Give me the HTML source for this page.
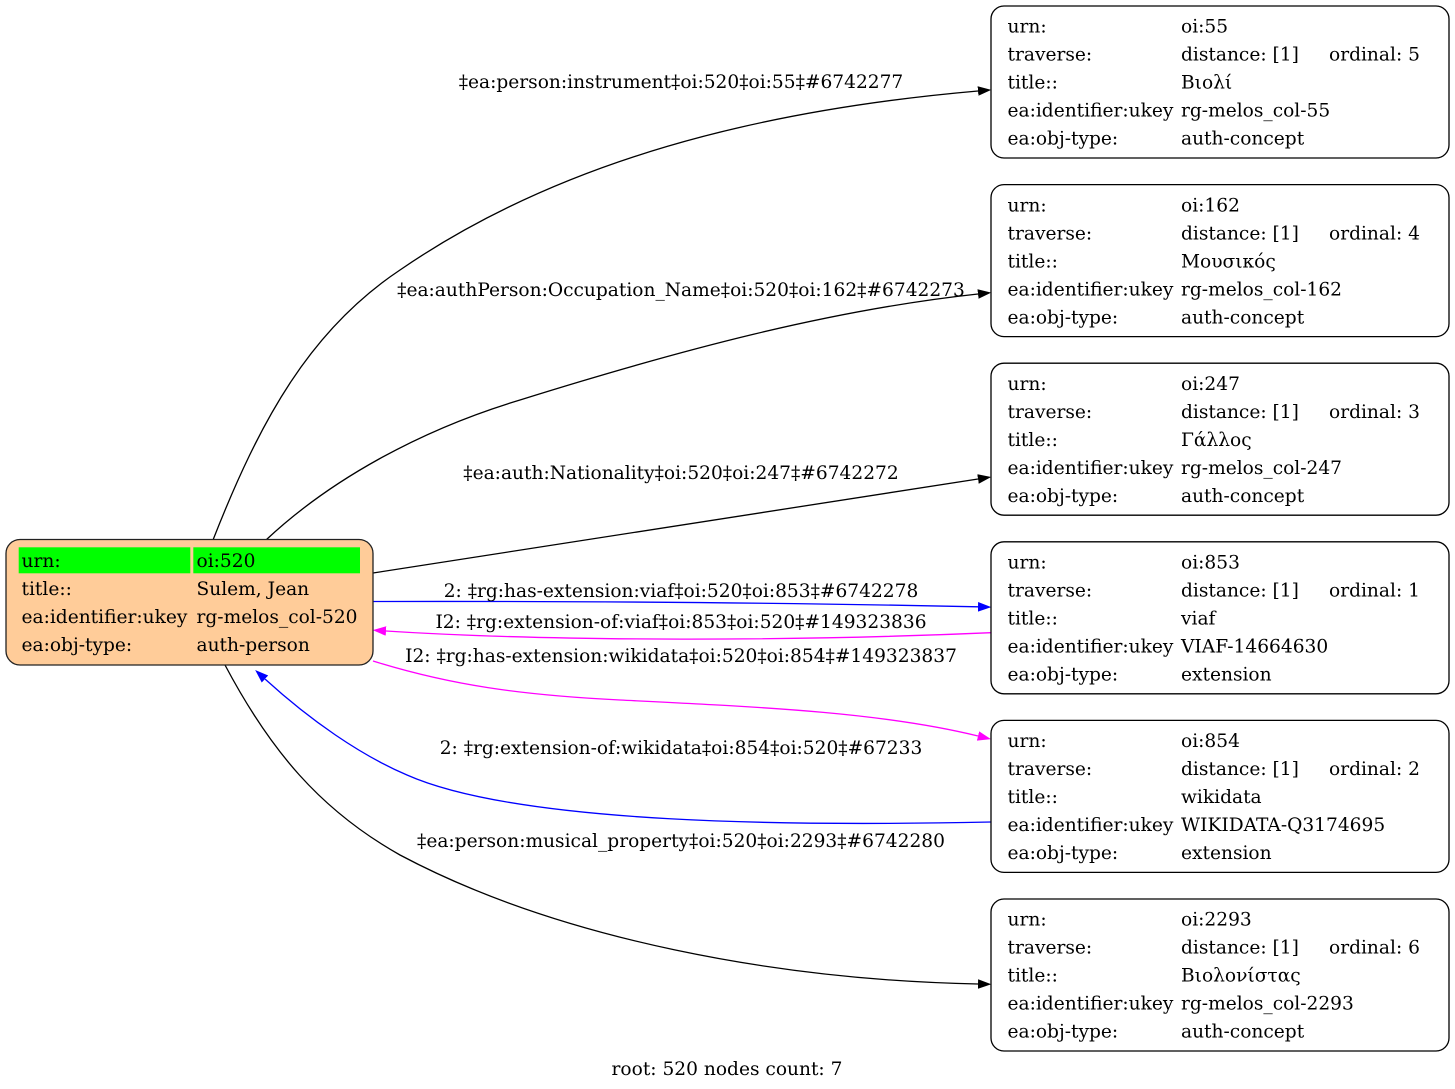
<!DOCTYPE html>
<html><head><meta charset="utf-8"><style>
html,body{margin:0;padding:0;background:#fff;}
svg{display:block;}
text{font-family:"DejaVu Serif","Liberation Serif",serif;font-size:18.6px;fill:#000;}
</style></head><body>
<svg width="1455" height="1089" viewBox="0 0 1455 1089" xmlns="http://www.w3.org/2000/svg">
<defs>
<marker id="ak" markerUnits="userSpaceOnUse" markerWidth="14" markerHeight="10" refX="0" refY="4.8" orient="auto"><path d="M0,0 L13.3,4.8 L0,9.6 z" fill="#000"/></marker>
<marker id="ab" markerUnits="userSpaceOnUse" markerWidth="14" markerHeight="10" refX="0" refY="4.8" orient="auto"><path d="M0,0 L13.3,4.8 L0,9.6 z" fill="#0000ff"/></marker>
<marker id="am" markerUnits="userSpaceOnUse" markerWidth="14" markerHeight="10" refX="0" refY="4.8" orient="auto"><path d="M0,0 L13.3,4.8 L0,9.6 z" fill="#ff00ff"/></marker>
</defs>

<!-- edges -->
<g fill="none" stroke-width="1.3">
<path d="M213,540 C260,420 310,330 400,270 C560,160 760,110 978,91" stroke="#000" marker-end="url(#ak)"/>
<path d="M266,540 C330,480 420,430 520,400 C680,350 830,310 978,294" stroke="#000" marker-end="url(#ak)"/>
<path d="M373,573 L978,479" stroke="#000" marker-end="url(#ak)"/>
<path d="M373,601.5 C600,601 800,603 978,606.8" stroke="#0000ff" marker-end="url(#ab)"/>
<path d="M991,632.7 C800,641 560,642 386,631" stroke="#ff00ff" marker-end="url(#am)"/>
<path d="M373,661 C450,685 520,695 620,700 C760,707 880,712 978,736" stroke="#ff00ff" marker-end="url(#am)"/>
<path d="M991,822 C800,826 520,825 407,775 C360,755 310,720 265,679" stroke="#0000ff" marker-end="url(#ab)"/>
<path d="M225,665 C270,750 320,810 400,855 C560,940 780,980 978,984" stroke="#000" marker-end="url(#ak)"/>
</g>

<!-- edge labels -->
<g text-anchor="middle">
<text x="681" y="88">‡ea:person:instrument‡oi:520‡oi:55‡#6742277</text>
<text x="681" y="296">‡ea:authPerson:Occupation_Name‡oi:520‡oi:162‡#6742273</text>
<text x="681" y="479">‡ea:auth:Nationality‡oi:520‡oi:247‡#6742272</text>
<text x="681" y="597">2: ‡rg:has-extension:viaf‡oi:520‡oi:853‡#6742278</text>
<text x="681" y="628">I2: ‡rg:extension-of:viaf‡oi:853‡oi:520‡#149323836</text>
<text x="681" y="662">I2: ‡rg:has-extension:wikidata‡oi:520‡oi:854‡#149323837</text>
<text x="681" y="754">2: ‡rg:extension-of:wikidata‡oi:854‡oi:520‡#67233</text>
<text x="681" y="847">‡ea:person:musical_property‡oi:520‡oi:2293‡#6742280</text>
<text x="727" y="1075">root: 520 nodes count: 7</text>
</g>

<!-- root node -->
<rect x="6" y="539.5" width="367" height="125.5" rx="14" ry="14" fill="#ffcc99" stroke="#222" stroke-width="1.3"/>
<rect x="18.7" y="547.3" width="171.6" height="26" fill="#00ff00"/>
<rect x="193.3" y="547.3" width="166.7" height="26" fill="#00ff00"/>
<text x="21.5" y="567">urn:</text><text x="196.5" y="567">oi:520</text>
<text x="21.5" y="595">title::</text><text x="196.5" y="595">Sulem, Jean</text>
<text x="21.5" y="623">ea:identifier:ukey</text><text x="196.5" y="623">rg-melos_col-520</text>
<text x="21.5" y="651">ea:obj-type:</text><text x="196.5" y="651">auth-person</text>

<!-- node 1 -->
<g transform="translate(0,6)">
<rect x="991" y="0" width="458" height="152" rx="13" ry="13" fill="#fff" stroke="#000" stroke-width="1.3"/>
<text x="1007.5" y="26.7">urn:</text><text x="1181" y="26.7">oi:55</text>
<text x="1007.5" y="54.7">traverse:</text><text x="1181" y="54.7">distance: [1]</text><text x="1329" y="54.7">ordinal: 5</text>
<text x="1007.5" y="82.7">title::</text><text x="1181" y="82.7">Βιολί</text>
<text x="1007.5" y="110.7">ea:identifier:ukey</text><text x="1181" y="110.7">rg-melos_col-55</text>
<text x="1007.5" y="138.7">ea:obj-type:</text><text x="1181" y="138.7">auth-concept</text>
</g>
<!-- node 2 -->
<g transform="translate(0,184.6)">
<rect x="991" y="0" width="458" height="152" rx="13" ry="13" fill="#fff" stroke="#000" stroke-width="1.3"/>
<text x="1007.5" y="26.7">urn:</text><text x="1181" y="26.7">oi:162</text>
<text x="1007.5" y="54.7">traverse:</text><text x="1181" y="54.7">distance: [1]</text><text x="1329" y="54.7">ordinal: 4</text>
<text x="1007.5" y="82.7">title::</text><text x="1181" y="82.7">Μουσικός</text>
<text x="1007.5" y="110.7">ea:identifier:ukey</text><text x="1181" y="110.7">rg-melos_col-162</text>
<text x="1007.5" y="138.7">ea:obj-type:</text><text x="1181" y="138.7">auth-concept</text>
</g>
<!-- node 3 -->
<g transform="translate(0,363.2)">
<rect x="991" y="0" width="458" height="152" rx="13" ry="13" fill="#fff" stroke="#000" stroke-width="1.3"/>
<text x="1007.5" y="26.7">urn:</text><text x="1181" y="26.7">oi:247</text>
<text x="1007.5" y="54.7">traverse:</text><text x="1181" y="54.7">distance: [1]</text><text x="1329" y="54.7">ordinal: 3</text>
<text x="1007.5" y="82.7">title::</text><text x="1181" y="82.7">Γάλλος</text>
<text x="1007.5" y="110.7">ea:identifier:ukey</text><text x="1181" y="110.7">rg-melos_col-247</text>
<text x="1007.5" y="138.7">ea:obj-type:</text><text x="1181" y="138.7">auth-concept</text>
</g>
<!-- node 4 -->
<g transform="translate(0,541.8)">
<rect x="991" y="0" width="458" height="152" rx="13" ry="13" fill="#fff" stroke="#000" stroke-width="1.3"/>
<text x="1007.5" y="26.7">urn:</text><text x="1181" y="26.7">oi:853</text>
<text x="1007.5" y="54.7">traverse:</text><text x="1181" y="54.7">distance: [1]</text><text x="1329" y="54.7">ordinal: 1</text>
<text x="1007.5" y="82.7">title::</text><text x="1181" y="82.7">viaf</text>
<text x="1007.5" y="110.7">ea:identifier:ukey</text><text x="1181" y="110.7">VIAF-14664630</text>
<text x="1007.5" y="138.7">ea:obj-type:</text><text x="1181" y="138.7">extension</text>
</g>
<!-- node 5 -->
<g transform="translate(0,720.4)">
<rect x="991" y="0" width="458" height="152" rx="13" ry="13" fill="#fff" stroke="#000" stroke-width="1.3"/>
<text x="1007.5" y="26.7">urn:</text><text x="1181" y="26.7">oi:854</text>
<text x="1007.5" y="54.7">traverse:</text><text x="1181" y="54.7">distance: [1]</text><text x="1329" y="54.7">ordinal: 2</text>
<text x="1007.5" y="82.7">title::</text><text x="1181" y="82.7">wikidata</text>
<text x="1007.5" y="110.7">ea:identifier:ukey</text><text x="1181" y="110.7">WIKIDATA-Q3174695</text>
<text x="1007.5" y="138.7">ea:obj-type:</text><text x="1181" y="138.7">extension</text>
</g>
<!-- node 6 -->
<g transform="translate(0,899)">
<rect x="991" y="0" width="458" height="152" rx="13" ry="13" fill="#fff" stroke="#000" stroke-width="1.3"/>
<text x="1007.5" y="26.7">urn:</text><text x="1181" y="26.7">oi:2293</text>
<text x="1007.5" y="54.7">traverse:</text><text x="1181" y="54.7">distance: [1]</text><text x="1329" y="54.7">ordinal: 6</text>
<text x="1007.5" y="82.7">title::</text><text x="1181" y="82.7">Βιολονίστας</text>
<text x="1007.5" y="110.7">ea:identifier:ukey</text><text x="1181" y="110.7">rg-melos_col-2293</text>
<text x="1007.5" y="138.7">ea:obj-type:</text><text x="1181" y="138.7">auth-concept</text>
</g>
</svg>
</body></html>
